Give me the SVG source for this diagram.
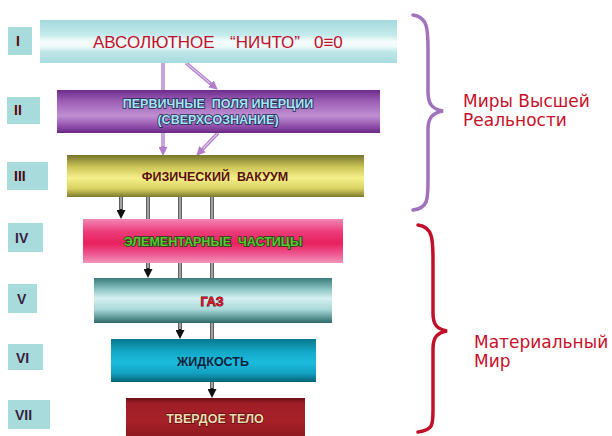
<svg xmlns="http://www.w3.org/2000/svg" width="612" height="436" viewBox="0 0 612 436">
<style>
.lbl rect{fill:#a8dcdc}
.lbl text{font-family:"Liberation Sans",Arial,sans-serif;font-weight:bold;font-size:14px}
.bt{font-family:"Liberation Sans",Arial,sans-serif;font-size:12.5px;font-weight:bold;text-anchor:middle;white-space:pre}
.side{font-family:"DejaVu Sans","Noto Sans",sans-serif;font-size:17px;fill:#c8102a}
.bo{stroke:#1a1a1a;stroke-width:3.4;fill:none}
.bi{stroke:#ffffff;stroke-width:1.2;fill:none}
.po{stroke:#b07cc8;stroke-width:3.4;fill:none}
.pi{stroke:#dcc4ea;stroke-width:1.2;fill:none}
</style>
<defs>
<linearGradient id="g1" x1="0" y1="0" x2="0" y2="1">
<stop offset="0" stop-color="#a4dadd"/><stop offset="0.35" stop-color="#c4eaec"/><stop offset="0.5" stop-color="#f6fcfc"/><stop offset="0.62" stop-color="#eef9f9"/><stop offset="0.75" stop-color="#bde6e8"/><stop offset="1" stop-color="#a8dcdf"/>
</linearGradient>
<linearGradient id="g2" x1="0" y1="0" x2="0" y2="1">
<stop offset="0" stop-color="#6e2c8c"/><stop offset="0.25" stop-color="#9a5cb4"/><stop offset="0.6" stop-color="#c090d2"/><stop offset="0.8" stop-color="#9a5ab4"/><stop offset="1" stop-color="#682884"/>
</linearGradient>
<linearGradient id="g3" x1="0" y1="0" x2="0" y2="1">
<stop offset="0" stop-color="#76762c"/><stop offset="0.3" stop-color="#cfc85a"/><stop offset="0.55" stop-color="#f6f08a"/><stop offset="0.8" stop-color="#d8d060"/><stop offset="1" stop-color="#7e7a2e"/>
</linearGradient>
<linearGradient id="g4" x1="0" y1="0" x2="0" y2="1">
<stop offset="0" stop-color="#f088b4"/><stop offset="0.3" stop-color="#ec3a78"/><stop offset="0.55" stop-color="#e8205e"/><stop offset="0.8" stop-color="#ee5890"/><stop offset="1" stop-color="#f294bc"/>
</linearGradient>
<linearGradient id="g5" x1="0" y1="0" x2="0" y2="1">
<stop offset="0" stop-color="#3a7a7a"/><stop offset="0.25" stop-color="#8cc4c4"/><stop offset="0.45" stop-color="#d6f0f0"/><stop offset="0.7" stop-color="#a8d8d8"/><stop offset="1" stop-color="#2c6a6a"/>
</linearGradient>
<linearGradient id="g6" x1="0" y1="0" x2="0" y2="1">
<stop offset="0" stop-color="#08788e"/><stop offset="0.3" stop-color="#14a8c8"/><stop offset="0.55" stop-color="#1cbcdc"/><stop offset="0.8" stop-color="#12a0c0"/><stop offset="1" stop-color="#066474"/>
</linearGradient>
<linearGradient id="g7" x1="0" y1="0" x2="0" y2="1">
<stop offset="0" stop-color="#6a1018"/><stop offset="0.15" stop-color="#a01e26"/><stop offset="0.6" stop-color="#a82028"/><stop offset="1" stop-color="#8e1a20"/>
</linearGradient>
<marker id="ak" viewBox="0 0 10 10" refX="0" refY="5" markerWidth="9" markerHeight="9" markerUnits="userSpaceOnUse" orient="auto"><path d="M0,0 L10,5 L0,10 z" fill="#111"/></marker>
<marker id="ap" viewBox="0 0 10 10" refX="0" refY="5" markerWidth="9" markerHeight="9" markerUnits="userSpaceOnUse" orient="auto"><path d="M0,0 L10,5 L0,10 z" fill="#b07cc8"/></marker>
</defs>
<rect width="612" height="436" fill="#ffffff"/>

<g id="connectors">
<line class="po" x1="163" y1="63" x2="163" y2="147" marker-end="url(#ap)"/>
<line class="pi" x1="163" y1="63" x2="163" y2="146"/>
<line class="po" x1="186" y1="63" x2="210.9" y2="83.9" marker-end="url(#ap)"/>
<line class="pi" x1="186" y1="63" x2="210" y2="83"/>
<line class="po" x1="218" y1="133" x2="202.5" y2="149.2" marker-end="url(#ap)"/>
<line class="pi" x1="218" y1="133" x2="203" y2="148.5"/>
<line class="bo" x1="121" y1="197" x2="121" y2="210" marker-end="url(#ak)"/>
<line class="bi" x1="121" y1="197" x2="121" y2="209"/>
<line class="bo" x1="148" y1="197" x2="148" y2="269" marker-end="url(#ak)"/>
<line class="bi" x1="148" y1="197" x2="148" y2="268"/>
<line class="bo" x1="180" y1="197" x2="180" y2="330" marker-end="url(#ak)"/>
<line class="bi" x1="180" y1="197" x2="180" y2="329"/>
<line class="bo" x1="212" y1="197" x2="212" y2="389" marker-end="url(#ak)"/>
<line class="bi" x1="212" y1="197" x2="212" y2="388"/>
</g>

<g id="node-I">
<rect x="40" y="20" width="357" height="43" fill="url(#g1)"/>
<text font-family="'Liberation Sans',Arial,sans-serif" font-size="17" fill="#c0102a" y="48"><tspan x="93">АВСОЛЮТНОЕ</tspan><tspan x="230">“НИЧТО”</tspan><tspan x="314">0≡0</tspan></text>
</g>
<g id="node-II">
<rect x="57" y="90" width="323" height="43" fill="url(#g2)"/>
<text class="bt" x="218" y="108" font-size="13" fill="#a8e4f6" stroke="#1c2a50" stroke-width="1.6" paint-order="stroke">ПЕРВИЧНЫЕ  ПОЛЯ ИНЕРЦИИ</text>
<text class="bt" x="218" y="124" font-size="13" fill="#a8e4f6" stroke="#1c2a50" stroke-width="1.6" paint-order="stroke">(СВЕРХСОЗНАНИЕ)</text>
</g>
<g id="node-III">
<rect x="67" y="155" width="297" height="42" fill="url(#g3)"/>
<text class="bt" x="215" y="181" font-size="12.5" fill="#5a1010">ФИЗИЧЕСКИЙ  ВАКУУМ</text>
</g>
<g id="node-IV">
<rect x="83" y="219" width="260" height="44" fill="url(#g4)"/>
<text class="bt" x="213" y="246" font-size="12.5" fill="#58c834" stroke="#1e3a10" stroke-width="1.4" paint-order="stroke">ЭЛЕМЕНТАРНЫЕ  ЧАСТИЦЫ</text>
</g>
<g id="node-V">
<rect x="94" y="278" width="238" height="45" fill="url(#g5)"/>
<text class="bt" x="212" y="306" font-size="13" fill="#e0102a" stroke="#4a0a10" stroke-width="0.8" paint-order="stroke">ГАЗ</text>
</g>
<g id="node-VI">
<rect x="111" y="339" width="205" height="43" fill="url(#g6)"/>
<text class="bt" x="213" y="366" fill="#0e1e3c" font-size="13.5">ЖИДКОСТЬ</text>
</g>
<g id="node-VII">
<rect x="126" y="398" width="179" height="38" fill="url(#g7)"/>
<text class="bt" x="215" y="423" fill="#f2dcb0" font-weight="normal" font-size="13" stroke="#3a0808" stroke-width="1" paint-order="stroke">ТВЕРДОЕ ТЕЛО</text>
</g>

<g id="label-I" class="lbl"><rect x="8" y="27" width="24" height="28"/><text x="16" y="46" fill="#5a0a0a">I</text></g>
<g id="label-II" class="lbl"><rect x="7" y="97" width="33" height="27"/><text x="14" y="115" fill="#5a0a0a">II</text></g>
<g id="label-III" class="lbl"><rect x="7" y="162" width="41" height="28"/><text x="14" y="181" fill="#4a0a10">III</text></g>
<g id="label-IV" class="lbl"><rect x="8" y="223" width="35" height="29"/><text x="15" y="243" fill="#3a1e40">IV</text></g>
<g id="label-V" class="lbl"><rect x="8" y="284" width="29" height="29"/><text x="17" y="304" fill="#3a1e40">V</text></g>
<g id="label-VI" class="lbl"><rect x="8" y="344" width="35" height="26"/><text x="16" y="363" fill="#3a1e40">VI</text></g>
<g id="label-VII" class="lbl"><rect x="8" y="400" width="42" height="29"/><text x="15" y="420" fill="#3a1e40">VII</text></g>

<g id="brace-higher">
<path d="M413,15 C428,17 428,30 428,50 L428,92 C428,104 432,109 443,111 C432,113 428,118 428,130 L428,180 C428,200 428,208 413,210" fill="none" stroke="#a072bc" stroke-width="3.5" stroke-linecap="round"/>
<text class="side" x="463" y="107">Миры Высшей</text>
<text class="side" x="463" y="126">Реальности</text>
</g>
<g id="brace-material">
<path d="M418,225 C433,227 433,240 433,260 L433,313 C433,325 437,329 447,331 C437,333 433,337 433,349 L433,410 C433,425 433,430 418,432" fill="none" stroke="#c0102a" stroke-width="3.5" stroke-linecap="round"/>
<text class="side" x="474" y="348">Материальный</text>
<text class="side" x="474" y="367">Мир</text>
</g>
</svg>
